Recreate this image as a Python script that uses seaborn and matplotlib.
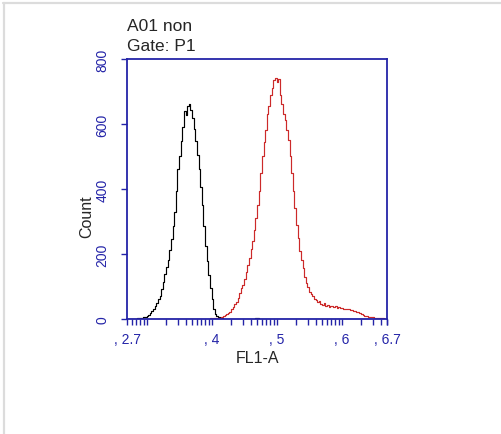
import numpy as np
import matplotlib
matplotlib.use("Agg")
from matplotlib import pyplot as plt
from matplotlib.lines import Line2D
import seaborn as sns

# Histogram bins in log10(FL1-A) units, 0.025 wide, from 2.70 to 6.70
bin_start = 2.70
bin_end = 6.70
bin_width = 0.025

# Counts per bin (160 bins)
black_counts = [
    0, 0, 0, 0, 1, 1, 2, 2, 3, 4,
    5, 6, 9, 13, 17, 24, 31, 40, 48, 60,
    72, 92, 115, 138, 160, 182, 212, 245, 285, 328,
    395, 460, 500, 548, 590, 640, 628, 655, 660, 642,
    618, 585, 548, 505, 462, 405, 350, 285, 225, 178,
    135, 95, 62, 32, 15, 8, 5, 3, 2, 1,
    0, 0, 0, 0, 0, 0, 0, 0, 0, 0,
    0, 0, 0, 0, 0, 0, 0, 0, 0, 3,
    2, 0, 0, 0, 0, 0, 0, 0, 0, 0,
    0, 0, 0, 0, 0, 0, 0, 0, 0, 0,
    0, 0, 0, 0, 0, 0, 0, 0, 0, 0,
    0, 0, 0, 0, 0, 0, 0, 0, 0, 0,
    0, 0, 0, 0, 0, 0, 0, 0, 0, 0,
    0, 0, 0, 0, 0, 0, 0, 0, 0, 0,
    0, 0, 0, 0, 0, 0, 0, 0, 0, 0,
    0, 0, 0, 0, 0, 0, 0, 0, 0, 0,
]
red_counts = [
    0, 0, 0, 0, 0, 0, 0, 0, 0, 0,
    0, 0, 0, 0, 0, 0, 0, 0, 0, 0,
    0, 0, 1, 0, 1, 0, 1, 0, 1, 0,
    1, 0, 1, 0, 1, 0, 1, 0, 1, 0,
    1, 0, 1, 0, 1, 0, 1, 0, 1, 1,
    1, 2, 1, 2, 2, 2, 3, 4, 6, 8,
    11, 14, 18, 23, 30, 36, 45, 52, 66, 80,
    95, 104, 122, 145, 165, 188, 215, 240, 275, 310,
    352, 395, 448, 500, 545, 580, 630, 655, 690, 712,
    735, 742, 728, 738, 690, 662, 632, 612, 580, 550,
    500, 448, 395, 340, 290, 248, 210, 180, 158, 130,
    112, 98, 84, 76, 70, 62, 58, 52, 55, 47,
    44, 48, 40, 43, 38, 41, 39, 36, 40, 35,
    37, 33, 34, 31, 32, 30, 31, 28, 27, 26,
    24, 23, 21, 18, 15, 12, 9, 8, 6, 6,
    5, 5, 4, 4, 3, 3, 2, 2, 1, 1,
]

x_ticks = [2.7, 4, 5, 6, 6.7]
x_tick_labels = [", 2.7", ", 4", ", 5", ", 6", ", 6.7"]
y_ticks = [0, 200, 400, 600, 800]

n_bins = len(black_counts)
centers = bin_start + bin_width * (np.arange(n_bins) + 0.5)

blue = "#2424a8"

sns.set_style("white")
plt.rcParams["font.family"] = ["Liberation Sans", "DejaVu Sans"]

fig = plt.figure(figsize=(5.02, 4.35), dpi=100)
ax = fig.add_axes([0.253, 0.2644, 0.518, 0.5977])

for counts, color in [(black_counts, "black"), (red_counts, "#cc2a2a")]:
    sns.histplot(x=centers, weights=np.array(counts, dtype=float),
                 binwidth=bin_width, binrange=(bin_start, bin_end),
                 element="step", fill=False, color=color,
                 linewidth=0.85, ax=ax)

ax.set_xlim(2.7, 6.7)
ax.set_ylim(0, 800)

for s in ax.spines.values():
    s.set_color(blue)
    s.set_linewidth(1.3)
    s.set_visible(True)

# log-decade minor ticks
minor = []
for n in range(2, 7):
    for k in range(1, 10):
        v = np.log10(k * 10.0 ** n)
        if 2.7 < v < 6.7:
            minor.append(v)
ax.set_xticks(minor, minor=True)
ax.set_xticks(x_ticks)
ax.set_xticklabels(x_tick_labels)
ax.set_yticks(y_ticks)
ax.set_yticklabels([str(v) for v in y_ticks], rotation=90, va="center")

ax.tick_params(axis="x", which="both", direction="out", length=4.5,
               width=1.0, color=blue, bottom=True, labelcolor=blue,
               labelsize=10, pad=5)
ax.tick_params(axis="y", which="major", direction="out", length=4.5,
               width=1.0, color=blue, left=True, labelcolor=blue,
               labelsize=10, pad=8)

ax.set_xlabel("")
ax.set_ylabel("")
fig.text(0.512, 0.177, "FL1-A", ha="center", va="center", fontsize=11.5)
fig.text(0.173, 0.503, "Count", ha="center", va="center", fontsize=11.5,
         rotation=90)
fig.text(0.253, 0.938, "A01 non", ha="left", va="center", fontsize=12.5)
fig.text(0.253, 0.894, "Gate: P1", ha="left", va="center", fontsize=12.5)

# light frame on top and left edges
fig.add_artist(Line2D([0.006, 1.0], [0.991, 0.991], color="#dcdcdc",
                      lw=1.6, transform=fig.transFigure))
fig.add_artist(Line2D([0.008, 0.008], [0.0, 0.991], color="#dcdcdc",
                      lw=1.6, transform=fig.transFigure))

fig.savefig("out.png", dpi=100)
